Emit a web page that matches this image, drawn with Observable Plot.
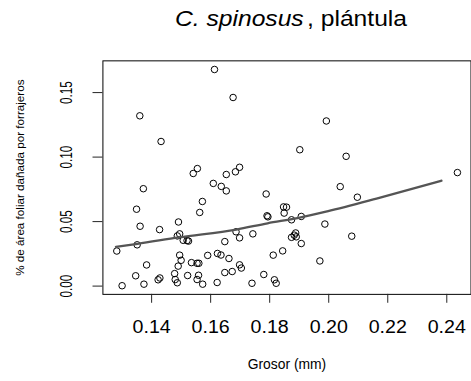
<!DOCTYPE html>
<html><head><meta charset="utf-8">
<script src="https://cdn.jsdelivr.net/npm/d3@7"></script>
<script src="https://cdn.jsdelivr.net/npm/@observablehq/plot@0.6"></script>
<style>
html,body{margin:0;padding:0;background:#fff;overflow:hidden;}
#wrap{position:relative;width:471px;height:381px;overflow:hidden;font-family:"Liberation Sans",Arial,sans-serif;background:#fff;}
#chart{position:absolute;left:0;top:0;}
#title{position:absolute;left:291px;top:8px;font-size:22px;line-height:22px;white-space:nowrap;transform:translateX(-50%) scaleX(1.12);color:#000;}
</style></head><body>
<div id="wrap"><div id="chart"></div><div id="title"><i>C. spinosus</i><span style="margin-left:3px">, plántula</span></div></div>
<script>
// Thickness of leaf (mm)
const grosor = [0.1613,0.1676,0.1360,0.1432,0.1555,0.1541,0.1698,0.1684,0.1653,0.1992,
0.1902,0.2059,0.2436,0.2039,0.2097,0.2078,0.1372,0.1609,0.1636,0.1653,
0.1349,0.1572,0.1563,0.1361,0.1427,0.1491,0.1495,0.1487,0.1507,0.1520,
0.1525,0.1351,0.1282,0.1495,0.1500,0.1490,0.1478,0.1383,0.1535,0.1554,
0.1560,0.1590,0.1623,0.1635,0.1346,0.1300,0.1374,0.1422,0.1428,0.1480,
0.1487,0.1522,0.1559,0.1554,0.1573,0.1622,0.1648,0.1648,0.1662,0.1673,
0.1686,0.1698,0.1698,0.1704,0.1743,0.1740,0.1780,0.1788,0.1791,0.1794,
0.1812,0.1816,0.1822,0.1844,0.1847,0.1857,0.1849,0.1874,0.1907,0.1987,
0.1888,0.1883,0.1874,0.1890,0.1907,0.1970];
// % leaf area damaged by foragers
const dano = [0.1679,0.1462,0.1320,0.1121,0.0911,0.0873,0.0921,0.0886,0.0865,0.1280,
0.1057,0.1006,0.0880,0.0771,0.0689,0.0387,0.0755,0.0796,0.0773,0.0738,
0.0596,0.0656,0.0571,0.0464,0.0438,0.0497,0.0405,0.0389,0.0355,0.0353,
0.0349,0.0320,0.0272,0.0240,0.0200,0.0155,0.0097,0.0164,0.0182,0.0177,
0.0177,0.0238,0.0253,0.0241,0.0080,0.0003,0.0015,0.0049,0.0063,0.0051,
0.0026,0.0082,0.0084,0.0051,0.0015,0.0028,0.0345,0.0105,0.0214,0.0113,
0.0421,0.0374,0.0165,0.0140,0.0405,0.0022,0.0090,0.0714,0.0545,0.0537,
0.0240,0.0049,0.0022,0.0273,0.0614,0.0612,0.0566,0.0514,0.0540,0.0481,
0.0412,0.0395,0.0378,0.0382,0.0330,0.0195];
// fitted curve
const ajusteX = [0.1279,0.1352,0.1492,0.1687,0.1793,0.1894,0.1995,0.2162,0.2382];
const ajusteY = [0.0305,0.0328,0.0378,0.0438,0.0487,0.0527,0.0579,0.0678,0.0817];
const xTicks = [0.14,0.16,0.18,0.20,0.22,0.24];
const yTicks = [0.00,0.05,0.10,0.15];
const xTitle = "Grosor (mm)";
const yTitle = "% de área foliar dañada por forrajeros";

const pts = grosor.map((g,i)=>({g, d: dano[i]}));
const fit = ajusteX.map((g,i)=>({g, d: ajusteY[i]}));
const fmt = d3.format(".2f");
const FONT = '"Liberation Sans", Arial, sans-serif';

const plot = Plot.plot({
  width: 476, height: 381,
  marginLeft: 103.5, marginRight: 0.5, marginTop: 61, marginBottom: 84,
  style: {fontFamily: FONT, background: "white", color: "black"},
  x: {domain: [0.1235, 0.2482]},
  y: {domain: [-0.0064, 0.1746]},
  marks: [
    Plot.frame({stroke: "black", strokeWidth: 1}),
    Plot.axisX({ticks: xTicks, tickSize: 9, tickPadding: 17, fontSize: 17.7, tickFormat: fmt, label: null, stroke: "#222"}),
    Plot.axisY({ticks: yTicks, tickSize: 10, tickFormat: () => "", label: null, stroke: "#222"}),
    Plot.text(yTicks, {y: d => d, frameAnchor: "left", textAnchor: "middle", lineAnchor: "middle", dx: -37, rotate: -90, text: fmt, fontSize: 17}),
    Plot.text([yTitle], {frameAnchor: "left", textAnchor: "middle", lineAnchor: "middle", dx: -84, rotate: -90, fontSize: 11.8, text: d => d}),
    Plot.text([xTitle], {frameAnchor: "bottom", dy: 75, fontSize: 14, text: d => d}),
    Plot.dot(pts, {x: "g", y: "d", r: 3.3, stroke: "black", strokeWidth: 1, fill: "none"}),
    Plot.line(fit, {x: "g", y: "d", stroke: "#555", strokeWidth: 2.3, curve: "monotone-x"})
  ]
});
const svg = d3.select(plot);
const yLab = new Set(yTicks.map(fmt));
const xLab = new Set(xTicks.map(fmt));
svg.selectAll("text").each(function(){
  const s = this.textContent;
  const t = this.getAttribute("transform");
  if (!t) return;
  if (yLab.has(s) && t.includes("rotate")) this.setAttribute("transform", t + " scale(0.7,1)");
  else if (xLab.has(s)) this.setAttribute("transform", t + " scale(1.12,1)");
});
document.getElementById("chart").appendChild(plot);
</script>
</body></html>
